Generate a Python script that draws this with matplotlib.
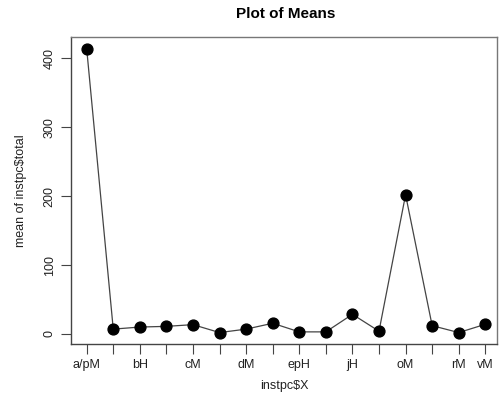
import matplotlib
matplotlib.use('Agg')
import matplotlib.pyplot as plt

# category order (levels of instpc$X); only some labels are drawn by R
categories = ['a/pM', '', 'bH', '', 'cM', '', 'dM', '', 'epH', '', 'jH', '', 'oM', '', 'rM', 'vM']
means = [414, 7, 10, 11, 13.5, 2, 7, 15.5, 3, 3, 28.5, 4, 202, 12, 2, 14]
yticks = [0, 100, 200, 300, 400]

plt.rcParams['font.family'] = ['Liberation Sans', 'DejaVu Sans']

fig = plt.figure(figsize=(4.99, 3.94), dpi=100)
W, H = 499, 394
# axes box in pixels: left 71, right 497, top 37, bottom 344
ax = fig.add_axes([71 / W, 1 - 344 / H, (497 - 71) / W, (344 - 37) / H])

x = list(range(1, len(means) + 1))
ax.plot(x, means, color='#444444', linewidth=0.9, zorder=2)
ax.plot(x, means, linestyle='none', marker='o', markersize=7.8,
        markerfacecolor='black', markeredgecolor='black', zorder=3)

ax.set_xlim(0.41, 16.44)
ax.set_ylim(-14.6, 431)

ax.set_xticks(x)
ax.set_xticklabels(categories, fontsize=9, color='#222222')
ax.set_yticks(yticks)
ax.set_yticklabels([str(v) for v in yticks], fontsize=9, rotation=90,
                   va='center', color='#222222')

ax.tick_params(direction='out', length=7, width=0.8, color='#444444', pad=4)
for s in ax.spines.values():
    s.set_color('#777777')
    s.set_linewidth(1.0)
ax.spines['left'].set_color('#444444')
ax.spines['bottom'].set_color('#444444')

ax.set_xlabel('instpc$X', fontsize=9, color='#222222', labelpad=6)
ax.set_ylabel('mean of instpc$total', fontsize=9, color='#222222', labelpad=12)
fig.text((71 + 501) / 2 / W, 1 - 14 / H, 'Plot of Means', fontsize=11,
         fontweight='bold', ha='center', va='center')

fig.savefig('out.png', dpi=100)
